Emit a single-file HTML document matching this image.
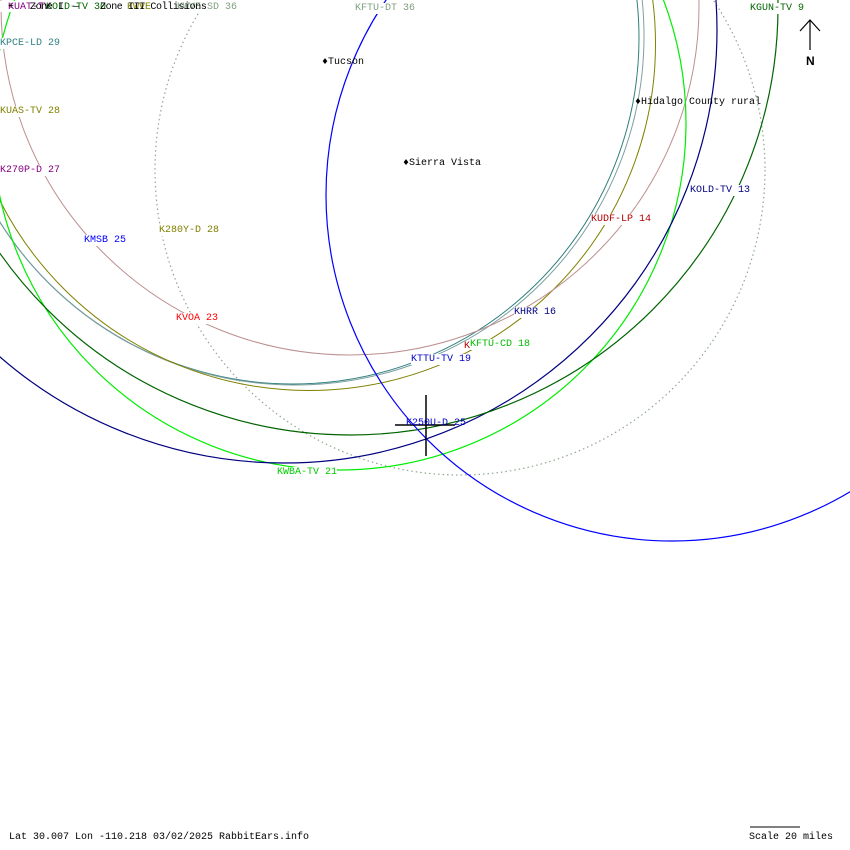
<!DOCTYPE html>
<html><head><meta charset="utf-8"><style>
html,body{margin:0;padding:0;background:#fff}
#w{position:relative;width:850px;height:850px;overflow:hidden;background:#fff;font-family:"Liberation Mono","DejaVu Sans Mono",monospace;font-size:10px}
svg{position:absolute;left:0;top:0}
.l{position:absolute;background:#fff;line-height:11px;white-space:nowrap}
.t{position:absolute;line-height:11px;white-space:nowrap;color:#000}
</style></head><body><div id="w">
<svg width="850" height="850" viewBox="0 0 850 850" fill="none">
<circle cx="460" cy="170" r="305" stroke="#8fa88f" stroke-width="1.2" stroke-dasharray="1.5,3"/>
<circle cx="293" cy="38" r="346" stroke="#2f7f7f" stroke-width="1"/>
<circle cx="295" cy="36" r="349" stroke="#7fa0a0" stroke-width="1"/>
<circle cx="309" cy="44" r="346.5" stroke="#808000" stroke-width="1"/>
<circle cx="350" cy="6" r="349" stroke="#bc8f8f" stroke-width="1"/>
<circle cx="339" cy="123" r="347" stroke="#00ee00" stroke-width="1.2"/>
<circle cx="284" cy="30" r="433" stroke="#000080" stroke-width="1.2"/>
<circle cx="350" cy="7" r="428" stroke="#006400" stroke-width="1.2"/>
<circle cx="672" cy="195" r="346" stroke="#0000ff" stroke-width="1.2"/>
<line x1="426" y1="395" x2="426" y2="456" stroke="#000" stroke-width="1.5"/>
<line x1="395" y1="425" x2="455" y2="425" stroke="#000" stroke-width="1.5"/>
<line x1="810" y1="50" x2="810" y2="20" stroke="#000" stroke-width="1.2"/>
<polyline points="800,31 810,20 820,31" stroke="#000" stroke-width="1.2"/>
<line x1="750" y1="827" x2="800" y2="827" stroke="#000"/>
</svg>
<div class="l" style="left:0px;top:1px;width:240px;height:11px"></div>
<div class="l" style="left:8px;top:2px;color:#800080;background:none">KUAT-TV</div>
<div class="l" style="left:46px;top:2px;color:#006400;background:none">KOLD-TV 30</div>
<div class="l" style="left:127px;top:2px;color:#808000;background:none">KWVE</div>
<div class="l" style="left:177px;top:2px;color:#7f9f7f;background:none">KWVE-SD 36</div>
<div class="t" style="left:8px;top:2px">+</div>
<div class="t" style="left:30px;top:2px;letter-spacing:-0.4px">Zone I</div>
<div class="t" style="left:73px;top:2px">—</div>
<div class="t" style="left:100px;top:2px;letter-spacing:-0.4px">Zone III Collisions</div>
<div class="l" style="left:355px;top:3px;color:#7f9f7f">KFTU-DT 36</div>
<div class="l" style="left:750px;top:3px;color:#006400">KGUN-TV 9</div>
<div class="l" style="left:0px;top:38px;color:#2f7f7f">KPCE-LD 29</div>
<div class="l" style="left:0px;top:106px;color:#808000">KUAS-TV 28</div>
<div class="l" style="left:0px;top:165px;color:#800080">K270P-D 27</div>
<div class="l" style="left:84px;top:235px;color:#0000ff">KMSB 25</div>
<div class="l" style="left:159px;top:225px;color:#808000">K280Y-D 28</div>
<div class="l" style="left:176px;top:313px;color:#ff0000">KVOA 23</div>
<div class="l" style="left:591px;top:214px;color:#b00000">KUDF-LP 14</div>
<div class="l" style="left:690px;top:185px;color:#000080">KOLD-TV 13</div>
<div class="l" style="left:514px;top:307px;color:#000080">KHRR 16</div>
<div class="l" style="left:464px;top:341px;color:#b00000;background:none">K</div>
<div class="l" style="left:470px;top:339px;color:#00bb00">KFTU-CD 18</div>
<div class="l" style="left:411px;top:354px;color:#0000cc">KTTU-TV 19</div>
<div class="l" style="left:406px;top:418px;color:#0000cc;background:none">K250U-D 25</div>
<div class="l" style="left:277px;top:467px;color:#00cc00">KWBA-TV 21</div>
<div class="t" style="left:322px;top:57px">♦Tucson</div>
<div class="t" style="left:403px;top:158px">♦Sierra Vista</div>
<div class="t" style="left:635px;top:97px">♦Hidalgo County rural</div>
<div class="t" style="left:806px;top:56px;font-weight:bold;font-size:12px;font-family:'Liberation Sans',sans-serif">N</div>
<div class="t" style="left:9px;top:832px">Lat 30.007 Lon -110.218 03/02/2025 RabbitEars.info</div>
<div class="t" style="left:749px;top:832px">Scale 20 miles</div>
</div></body></html>
